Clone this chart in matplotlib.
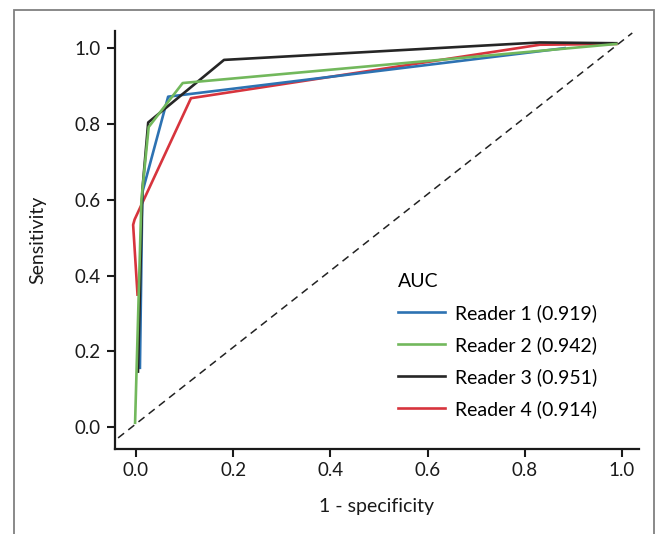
import matplotlib.pyplot as plt
from matplotlib.patches import Rectangle

plt.rcParams["font.family"] = ["Lato", "DejaVu Sans"]

# ----------------------------
# Data
# ----------------------------
reader1_x = [0.008, 0.013, 0.018, 0.066, 0.882]
reader1_y = [0.157, 0.620, 0.644, 0.872, 1.000]

reader2_x = [-0.002, 0.011, 0.026, 0.096, 0.988]
reader2_y = [0.012, 0.600, 0.792, 0.908, 1.011]

reader3_x = [0.004, 0.013, 0.025, 0.181, 0.831, 0.988]
reader3_y = [0.147, 0.626, 0.804, 0.969, 1.015, 1.013]

reader4_x = [0.003, -0.006, -0.003, 0.113, 0.831, 0.988]
reader4_y = [0.350, 0.534, 0.548, 0.868, 1.009, 1.011]

diag_x = [-0.037, 1.021]
diag_y = [-0.028, 1.040]

labels = ["Reader 1 (0.919)", "Reader 2 (0.942)", "Reader 3 (0.951)", "Reader 4 (0.914)"]
colors = ["#2d72b2", "#72b85c", "#262626", "#d7343d"]

ticks = [0.0, 0.2, 0.4, 0.6, 0.8, 1.0]

# ----------------------------
# Figure
# ----------------------------
fig = plt.figure(figsize=(6.59, 5.34), dpi=100)
ax = fig.add_axes([0.174, 0.160, 0.795, 0.7825])

# outer grey frame (bottom edge runs off the image)
fig.patches.append(Rectangle((0.0212, -0.05), 0.9712, 1.031, transform=fig.transFigure,
                             fill=False, edgecolor="#808080", linewidth=1.3))

ax.plot(diag_x, diag_y, color="#222222", linewidth=1.1, linestyle=(0, (5, 3.5)))

l4, = ax.plot(reader4_x, reader4_y, color=colors[3], linewidth=1.9, zorder=3)
l1, = ax.plot(reader1_x, reader1_y, color=colors[0], linewidth=1.9, zorder=3)
l3, = ax.plot(reader3_x, reader3_y, color=colors[2], linewidth=1.9, zorder=4)
l2, = ax.plot(reader2_x, reader2_y, color=colors[1], linewidth=1.9, zorder=5)

ax.set_xlim(-0.044, 1.034)
ax.set_ylim(-0.056, 1.046)
ax.set_xticks(ticks)
ax.set_yticks(ticks)
ax.set_xticklabels([f"{t:.1f}" for t in ticks])
ax.set_yticklabels([f"{t:.1f}" for t in ticks])

for side in ["top", "right"]:
    ax.spines[side].set_visible(False)
for side in ["left", "bottom"]:
    ax.spines[side].set_linewidth(1.6)
    ax.spines[side].set_color("#1a1a1a")

ax.tick_params(axis="both", direction="out", length=6, width=1.5,
               labelsize=13.5, colors="#1a1a1a", pad=4)

ax.set_xlabel("1 - specificity", fontsize=14, color="#1a1a1a", labelpad=13)
ax.set_ylabel("Sensitivity", fontsize=14, color="#1a1a1a", labelpad=20)

leg = ax.legend([l1, l2, l3, l4], labels, title="AUC", loc="upper left",
                bbox_to_anchor=(0.522, 0.443), frameon=False, fontsize=14,
                title_fontsize=14, handlelength=2.42, handletextpad=0.52,
                labelspacing=0.72, borderpad=0, alignment="left")

fig.savefig("out.png", dpi=100)
